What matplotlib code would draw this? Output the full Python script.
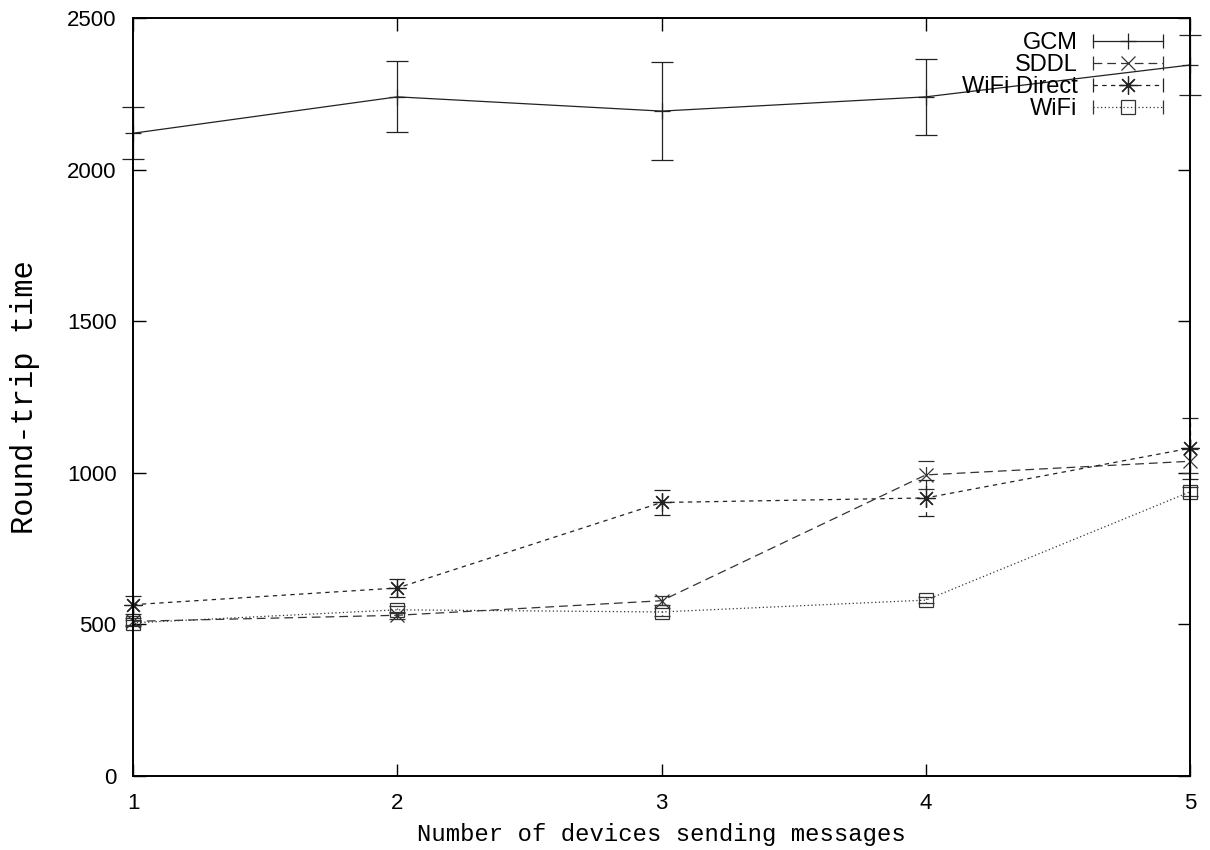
import matplotlib
matplotlib.use("Agg")
import matplotlib.pyplot as plt
from matplotlib.lines import Line2D
from matplotlib.legend_handler import HandlerLine2D

# numero de dispositivos enviando mensagens
devices = [1, 2, 3, 4, 5]

gcm = [2120, 2240, 2193, 2240, 2345]
gcm_err = [85, 117, 162, 125, 100]

sddl = [510, 530, 578, 993, 1038]
sddl_err = [12, 12, 15, 46, 40]

wifi_direct = [565, 620, 902, 917, 1081]
wifi_direct_err = [30, 30, 41, 60, 100]

wifi = [505, 548, 541, 580, 937]
wifi_err = [10, 12, 12, 10, 15]

plt.rcParams['font.family'] = ['Liberation Sans', 'DejaVu Sans']


class KeySample(HandlerLine2D):
    # linea horizontal con topes en los extremos y el marcador en el centro
    def create_artists(self, legend, orig_handle, xdescent, ydescent,
                       width, height, fontsize, trans):
        y = height / 2 - ydescent
        x0, x1 = -xdescent, -xdescent + width
        line = Line2D([x0, x1], [y, y])
        line.update_from(orig_handle)
        line.set_marker("none")
        caps = Line2D([x0, x1], [y, y], linestyle="none", marker="|", markersize=10,
                      markeredgewidth=0.9, color=orig_handle.get_color())
        mid = Line2D([(x0 + x1) / 2], [y])
        mid.update_from(orig_handle)
        mid.set_linestyle("none")
        arts = [line, caps, mid]
        for a in arts:
            a.set_transform(trans)
        return arts


fig = plt.figure(figsize=(12.1, 8.5), dpi=100)
ax = fig.add_axes([0.110, 0.0871, 0.8735, 0.8917])

series = [
    ("GCM", gcm, gcm_err, "-", "+", 12, "#222222", None, 8),
    ("SDDL", sddl, sddl_err, (0, (7, 4)), "x", 10, "#333333", None, 6),
    ("WiFi Direct", wifi_direct, wifi_direct_err, (0, (3.5, 3.5)), (8, 2, 0), 13, "#222222", None, 6),
    ("WiFi", wifi, wifi_err, (0, (1, 2)), "s", 10, "#333333", "none", 6),
]

handles = []
for name, vals, err, ls, mk, ms, col, fc, cap in series:
    eb = ax.errorbar(devices, vals, yerr=err, color=col, linestyle=ls, linewidth=0.9,
                     marker=mk, markersize=ms, markeredgewidth=0.9,
                     markerfacecolor=fc if fc else col, markeredgecolor=col,
                     capsize=cap, capthick=0.8, elinewidth=0.9, clip_on=False)
    for bl in eb[2]:
        bl.set_linestyle(ls if ls != "-" else "solid")
    if ls != "-":
        for c in eb[1]:
            c.set_color("#777777")
    handles.append(eb[0])

ax.set_xlim(1, 5)
ax.set_ylim(0, 2500)
ax.set_xticks(devices)
ax.set_yticks([0, 500, 1000, 1500, 2000, 2500])

ax.tick_params(direction="in", length=9, width=1.0, top=True, right=True, labelsize=16)
ax.tick_params(axis="y", pad=12)
ax.tick_params(axis="x", pad=12)
for sp in ax.spines.values():
    sp.set_linewidth(1.4)

ax.set_xlabel("Number of devices sending messages", family="Liberation Mono",
              fontsize=17.2, labelpad=7)
ax.set_ylabel("Round-trip time", family="Liberation Mono", fontsize=22, labelpad=19)

leg = ax.legend(handles, [s[0] for s in series], handler_map={Line2D: KeySample()},
                loc="upper right", frameon=False, markerfirst=False,
                fontsize=17, handlelength=2.95, handletextpad=0.65,
                labelspacing=0.0, borderaxespad=0.0, bbox_to_anchor=(0.983, 0.994))
for t in leg.get_texts():
    t.set_ha("right")

fig.savefig("out.png", dpi=100)
